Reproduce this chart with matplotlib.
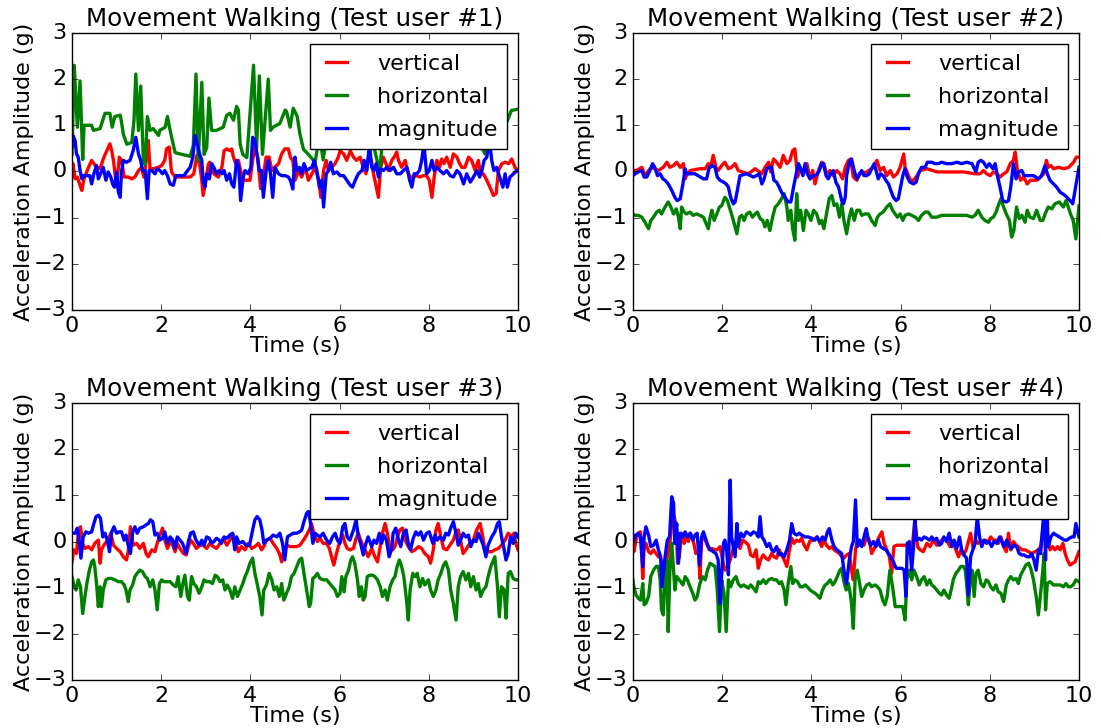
import matplotlib.pyplot as plt

plt.style.use('classic')
plt.rcParams['font.family'] = 'DejaVu Sans'

# samples as (time in s, amplitude in g)
u1_vert = [(0.0,-0.09),(0.02,0.17),(0.07,-0.16),(0.12,-0.12),(0.18,-0.3),(0.22,-0.41),(0.27,-0.16),(0.37,0.09),(0.44,0.24),(0.52,0.13),(0.63,0.06),(0.7,0.27),(0.78,0.45),(0.85,0.6),(0.89,0.45),(0.93,0.24),(1.0,-0.34),(1.06,0.31),(1.11,0.24),(1.17,-0.12),(1.26,-0.12),(1.34,-0.16),(1.41,-0.12),(1.49,0.02),(1.56,0.09),(1.61,-0.12),(1.67,0.27),(1.71,0.67),(1.75,0.06),(1.82,0.06),(1.94,0.09),(2.01,0.13),(2.08,0.24),(2.12,0.49),(2.18,0.53),(2.23,-0.01),(2.31,-0.12),(2.42,-0.12),(2.53,-0.12),(2.65,-0.12),(2.73,-0.05),(2.8,0.35),(2.86,0.17),(2.91,-0.19),(2.94,-0.52),(3.0,-0.19),(3.06,0.17),(3.09,0.2),(3.18,-0.05),(3.28,-0.12),(3.36,0.09),(3.41,0.45),(3.47,0.49),(3.54,0.45),(3.58,0.49),(3.62,0.31),(3.67,0.17),(3.73,0.24),(3.78,0.02),(3.84,-0.19),(3.92,-0.19),(3.99,-0.19),(4.05,0.24),(4.1,0.53),(4.16,0.31),(4.23,-0.37),(4.29,-0.12),(4.35,0.31),(4.42,0.31),(4.48,0.02),(4.55,0.09),(4.63,0.17),(4.7,0.38),(4.77,0.49),(4.85,0.49),(4.9,0.3),(4.95,0.24),(5.0,-0.19),(5.08,0.02),(5.15,-0.12),(5.23,0.09),(5.3,-0.19),(5.38,-0.05),(5.45,0.09),(5.53,-0.19),(5.58,-0.56),(5.64,0.02),(5.7,0.24),(5.75,0.02),(5.82,0.09),(5.9,0.17),(5.97,0.31),(6.01,0.45),(6.09,0.38),(6.16,0.24),(6.24,0.45),(6.31,0.31),(6.38,0.24),(6.46,0.31),(6.53,0.09),(6.59,-0.05),(6.65,0.31),(6.71,0.24),(6.76,-0.05),(6.83,-0.38),(6.87,-0.56),(6.92,0.09),(6.98,0.31),(7.04,0.17),(7.09,0.02),(7.17,0.24),(7.22,0.31),(7.28,0.42),(7.32,0.24),(7.39,0.09),(7.47,0.24),(7.52,0.02),(7.58,-0.12),(7.66,-0.12),(7.73,-0.09),(7.8,-0.12),(7.88,-0.09),(7.95,-0.09),(8.01,-0.19),(8.07,-0.56),(8.12,-0.12),(8.18,0.24),(8.24,0.09),(8.29,0.27),(8.34,0.17),(8.4,0.31),(8.48,0.09),(8.55,0.38),(8.63,0.31),(8.69,0.17),(8.74,0.09),(8.81,0.09),(8.89,0.31),(8.96,0.24),(9.04,0.02),(9.11,0.24),(9.16,-0.05),(9.22,-0.05),(9.3,-0.19),(9.37,-0.34),(9.45,-0.52),(9.51,-0.48),(9.56,0.02),(9.64,0.17),(9.71,0.2),(9.79,0.17),(9.86,0.27),(9.93,0.09),(10.0,0.02)]
u1_horiz = [(0.0,0.37),(0.05,2.3),(0.12,0.96),(0.18,1.96),(0.24,0.26),(0.27,1.0),(0.44,1.0),(0.48,0.89),(0.63,0.93),(0.74,1.26),(0.85,1.26),(0.9,0.96),(0.96,1.19),(1.08,1.22),(1.11,1.07),(1.15,0.81),(1.23,0.59),(1.34,0.63),(1.39,1.11),(1.43,2.11),(1.49,0.89),(1.54,1.85),(1.6,0.22),(1.64,0.15),(1.69,1.19),(1.75,0.89),(1.82,0.93),(1.94,0.78),(1.97,0.89),(2.09,0.96),(2.14,1.19),(2.2,0.89),(2.31,0.41),(2.46,0.37),(2.65,0.33),(2.72,0.56),(2.78,2.11),(2.83,0.22),(2.91,1.93),(2.96,0.37),(3.02,0.52),(3.07,1.59),(3.13,0.89),(3.24,0.89),(3.39,0.96),(3.47,1.22),(3.54,1.26),(3.62,1.11),(3.69,1.41),(3.73,1.33),(3.77,0.59),(3.83,0.37),(3.92,0.3),(4.07,2.3),(4.14,0.52),(4.2,2.07),(4.27,0.37),(4.4,2.0),(4.45,0.89),(4.51,0.96),(4.66,1.04),(4.78,1.33),(4.81,1.3),(4.89,0.96),(4.96,1.37),(5.05,1.19),(5.11,0.81),(5.19,0.48),(5.3,0.37),(5.45,0.2),(5.55,0.8),(5.63,0.25),(5.75,1.0),(5.9,1.2),(6.1,0.9),(6.3,1.4),(6.5,1.0),(6.7,0.8),(6.85,0.2),(6.9,-0.05),(6.95,0.6),(7.1,1.1),(7.4,0.9),(7.7,1.3),(8.0,1.0),(8.3,0.8),(8.6,1.2),(8.9,0.9),(9.1,0.7),(9.26,0.38),(9.35,0.55),(9.45,0.7),(9.6,0.89),(9.7,0.95),(9.85,1.32),(10.0,1.35)]
u1_mag = [(0.0,0.53),(0.02,0.78),(0.07,0.67),(0.1,0.38),(0.14,0.31),(0.18,0.02),(0.22,-0.16),(0.25,-0.09),(0.33,-0.09),(0.4,-0.09),(0.44,-0.27),(0.49,-0.05),(0.55,0.13),(0.59,-0.16),(0.64,-0.05),(0.7,0.09),(0.76,-0.19),(0.81,-0.01),(0.87,-0.12),(0.91,-0.27),(0.95,-0.34),(1.0,-0.01),(1.04,-0.45),(1.08,-0.56),(1.11,-0.01),(1.15,0.24),(1.22,0.2),(1.3,0.24),(1.37,0.45),(1.43,0.74),(1.49,0.38),(1.54,0.24),(1.58,0.02),(1.64,0.02),(1.69,-0.59),(1.73,0.02),(1.79,0.02),(1.86,-0.05),(1.91,0.06),(1.97,0.02),(2.03,-0.05),(2.08,0.02),(2.14,-0.09),(2.2,-0.27),(2.27,-0.3),(2.33,-0.09),(2.42,-0.09),(2.51,-0.09),(2.59,0.02),(2.65,0.09),(2.71,0.31),(2.76,0.78),(2.81,0.6),(2.86,0.38),(2.91,0.24),(2.94,-0.19),(2.98,-0.34),(3.02,-0.05),(3.08,-0.16),(3.13,0.17),(3.18,0.09),(3.24,-0.05),(3.3,0.02),(3.36,-0.05),(3.41,0.02),(3.47,-0.19),(3.53,-0.05),(3.58,-0.27),(3.63,-0.34),(3.69,0.24),(3.74,0.09),(3.78,-0.63),(3.84,-0.12),(3.88,0.02),(3.95,-0.05),(4.01,0.09),(4.05,0.74),(4.1,0.67),(4.16,0.31),(4.2,0.02),(4.25,0.02),(4.29,-0.56),(4.35,-0.01),(4.4,0.24),(4.45,-0.05),(4.5,-0.56),(4.55,0.09),(4.63,-0.05),(4.7,-0.09),(4.78,-0.09),(4.85,-0.12),(4.9,-0.2),(4.95,-0.38),(5.0,0.31),(5.04,0.02),(5.1,0.09),(5.15,-0.05),(5.2,0.17),(5.26,0.02),(5.32,0.06),(5.38,0.09),(5.43,0.24),(5.49,0.02),(5.55,-0.34),(5.6,-0.19),(5.64,-0.77),(5.7,-0.05),(5.75,0.02),(5.8,0.2),(5.86,-0.05),(5.94,-0.01),(6.01,-0.09),(6.09,-0.09),(6.16,-0.19),(6.24,-0.3),(6.29,-0.34),(6.35,-0.19),(6.42,-0.05),(6.5,0.02),(6.55,0.24),(6.61,0.02),(6.67,0.6),(6.72,0.09),(6.77,0.02),(6.82,0.17),(6.87,-0.12),(6.92,0.06),(6.98,0.02),(7.06,0.09),(7.13,0.02),(7.21,0.09),(7.28,-0.05),(7.36,-0.05),(7.43,0.02),(7.51,0.09),(7.57,-0.19),(7.62,-0.34),(7.67,-0.05),(7.73,-0.05),(7.79,0.02),(7.84,0.24),(7.89,0.6),(7.95,-0.05),(8.01,0.02),(8.07,0.24),(8.12,0.02),(8.18,0.09),(8.25,0.02),(8.33,-0.05),(8.4,0.02),(8.48,-0.09),(8.55,-0.12),(8.63,0.02),(8.7,-0.05),(8.78,-0.27),(8.85,-0.05),(8.93,-0.23),(9.0,-0.12),(9.08,0.02),(9.14,-0.12),(9.19,0.02),(9.24,0.24),(9.3,0.31),(9.36,0.7),(9.41,0.24),(9.46,0.02),(9.52,0.09),(9.6,-0.16),(9.66,-0.34),(9.71,-0.05),(9.76,-0.34),(9.82,-0.12),(9.9,-0.05),(9.97,0.02),(10.0,0.02)]

u2_vert = [(0.0,0.02),(0.08,0.02),(0.2,0.09),(0.27,-0.09),(0.35,0.02),(0.42,0.09),(0.57,0.02),(0.68,0.09),(0.76,0.2),(0.83,0.09),(0.91,0.13),(0.98,0.2),(1.06,0.09),(1.13,0.17),(1.17,-0.16),(1.2,-0.09),(1.28,0.02),(1.5,0.06),(1.62,0.06),(1.69,0.17),(1.74,0.09),(1.8,0.35),(1.86,0.09),(1.91,0.02),(1.99,0.13),(2.06,0.2),(2.14,0.06),(2.21,0.09),(2.29,0.17),(2.36,0.02),(2.59,-0.05),(2.74,0.06),(2.89,-0.05),(2.96,0.09),(3.04,0.2),(3.09,-0.01),(3.15,0.27),(3.22,0.2),(3.3,0.09),(3.37,0.35),(3.45,0.17),(3.52,0.24),(3.58,0.45),(3.63,0.49),(3.69,-0.12),(3.75,0.06),(3.82,-0.05),(3.9,0.17),(3.97,-0.16),(4.03,0.02),(4.08,-0.27),(4.16,0.02),(4.23,0.2),(4.28,0.17),(4.34,-0.05),(4.42,0.02),(4.49,-0.09),(4.57,0.02),(4.64,-0.05),(4.7,-0.16),(4.76,0.09),(4.83,0.24),(4.88,0.27),(4.94,-0.12),(5.02,-0.19),(5.09,-0.05),(5.24,-0.01),(5.39,0.09),(5.47,0.24),(5.54,0.02),(5.62,0.09),(5.69,-0.09),(5.77,0.02),(5.84,-0.12),(5.92,-0.05),(5.99,0.09),(6.07,0.38),(6.1,0.09),(6.16,-0.05),(6.22,-0.19),(6.29,-0.19),(6.37,-0.09),(6.44,0.02),(6.59,0.06),(6.82,-0.01),(7.12,-0.01),(7.41,-0.01),(7.67,-0.05),(7.78,-0.05),(7.86,0.02),(7.93,-0.05),(8.01,-0.09),(8.08,-0.01),(8.16,-0.05),(8.23,-0.12),(8.31,-0.05),(8.38,-0.01),(8.46,0.17),(8.53,0.24),(8.57,0.42),(8.62,0.02),(8.69,-0.19),(8.76,-0.12),(8.84,-0.27),(8.91,-0.19),(9.06,-0.19),(9.14,-0.12),(9.21,-0.05),(9.27,0.24),(9.31,0.09),(9.37,0.13),(9.43,0.06),(9.54,0.09),(9.66,0.06),(9.77,0.09),(9.88,0.2),(9.94,0.31),(10.0,0.31)]
u2_horiz = [(0.0,-0.92),(0.05,-0.95),(0.12,-0.95),(0.2,-0.99),(0.27,-1.1),(0.35,-1.24),(0.4,-1.06),(0.46,-0.99),(0.53,-0.88),(0.59,-0.84),(0.64,-0.92),(0.72,-0.77),(0.79,-0.66),(0.85,-0.77),(0.91,-0.92),(0.97,-0.81),(1.02,-0.99),(1.06,-1.24),(1.09,-0.77),(1.15,-0.88),(1.2,-0.92),(1.28,-0.88),(1.35,-0.95),(1.43,-0.92),(1.5,-0.95),(1.58,-0.99),(1.64,-1.13),(1.69,-1.24),(1.73,-0.99),(1.77,-0.84),(1.82,-1.06),(1.88,-0.92),(1.94,-0.77),(1.99,-0.74),(2.06,-0.56),(2.12,-0.63),(2.16,-0.77),(2.21,-0.92),(2.27,-1.13),(2.33,-1.35),(2.39,-0.99),(2.44,-0.95),(2.49,-1.06),(2.55,-0.92),(2.62,-0.88),(2.68,-0.99),(2.74,-0.92),(2.79,-0.88),(2.85,-1.02),(2.91,-1.06),(2.96,-1.2),(3.01,-1.06),(3.07,-1.28),(3.13,-0.99),(3.19,-0.77),(3.26,-0.7),(3.33,-0.59),(3.39,-0.48),(3.45,-0.77),(3.48,-1.06),(3.54,-0.84),(3.58,-1.24),(3.63,-1.49),(3.67,-0.48),(3.71,-1.06),(3.76,-0.84),(3.82,-1.28),(3.88,-0.84),(3.93,-0.92),(3.99,-1.06),(4.05,-0.84),(4.12,-0.92),(4.18,-1.13),(4.23,-1.06),(4.28,-1.24),(4.34,-0.92),(4.4,-0.59),(4.46,-0.52),(4.51,-0.74),(4.57,-0.7),(4.63,-0.99),(4.68,-0.7),(4.73,-1.06),(4.79,-1.35),(4.85,-0.99),(4.9,-0.81),(4.96,-1.06),(5.02,-0.84),(5.08,-0.84),(5.13,-0.95),(5.2,-0.92),(5.28,-0.92),(5.35,-1.06),(5.43,-1.17),(5.48,-0.99),(5.54,-0.92),(5.61,-0.88),(5.69,-0.77),(5.76,-0.7),(5.82,-0.84),(5.88,-0.92),(5.93,-0.99),(5.99,-0.92),(6.05,-1.06),(6.1,-0.95),(6.18,-0.92),(6.25,-0.95),(6.33,-0.99),(6.4,-1.06),(6.47,-0.95),(6.55,-0.88),(6.62,-0.88),(6.7,-0.99),(6.81,-0.99),(6.92,-0.95),(7.03,-0.95),(7.18,-0.95),(7.33,-0.95),(7.48,-0.95),(7.6,-0.99),(7.67,-0.95),(7.74,-0.84),(7.82,-0.99),(7.89,-1.06),(7.97,-1.1),(8.02,-1.02),(8.08,-0.99),(8.14,-0.88),(8.19,-0.74),(8.25,-0.59),(8.31,-0.77),(8.37,-0.92),(8.44,-1.06),(8.49,-1.42),(8.54,-1.28),(8.6,-0.77),(8.66,-1.02),(8.72,-0.95),(8.79,-1.1),(8.84,-0.84),(8.9,-0.99),(8.98,-1.02),(9.05,-0.84),(9.13,-1.06),(9.19,-1.06),(9.24,-0.92),(9.31,-0.77),(9.39,-0.81),(9.46,-0.7),(9.56,-0.66),(9.65,-0.77),(9.71,-0.63),(9.76,-0.77),(9.81,-0.92),(9.87,-1.06),(9.93,-1.46),(10.0,-0.74)]
u2_mag = [(0.0,-0.09),(0.05,-0.05),(0.12,-0.01),(0.2,0.02),(0.25,-0.12),(0.31,-0.12),(0.38,0.02),(0.44,0.17),(0.49,0.09),(0.55,-0.09),(0.61,-0.05),(0.67,-0.16),(0.72,-0.19),(0.79,-0.27),(0.87,-0.41),(0.94,-0.56),(0.99,-0.63),(1.06,-0.59),(1.12,-0.27),(1.17,0.06),(1.2,-0.05),(1.39,-0.05),(1.58,-0.16),(1.65,-0.16),(1.71,0.09),(1.77,0.13),(1.84,0.09),(1.89,-0.12),(1.95,-0.19),(2.03,-0.23),(2.09,-0.27),(2.14,-0.34),(2.19,-0.56),(2.25,-0.7),(2.29,-0.66),(2.34,-0.41),(2.4,-0.09),(2.55,-0.05),(2.7,-0.12),(2.77,-0.09),(2.83,-0.05),(2.89,-0.27),(2.94,-0.16),(3.0,0.06),(3.06,0.09),(3.11,0.09),(3.16,-0.19),(3.22,-0.23),(3.28,-0.34),(3.33,-0.45),(3.41,-0.56),(3.48,-0.66),(3.54,-0.66),(3.6,-0.34),(3.66,-0.05),(3.71,0.17),(3.75,0.09),(3.81,-0.09),(3.86,0.17),(3.91,-0.05),(3.97,-0.16),(4.03,-0.09),(4.1,-0.09),(4.18,0.02),(4.23,0.17),(4.27,0.17),(4.33,-0.09),(4.38,-0.16),(4.43,-0.05),(4.49,0.02),(4.55,-0.23),(4.61,-0.34),(4.68,-0.63),(4.72,-0.7),(4.76,-0.56),(4.79,-0.09),(4.85,0.2),(4.9,0.27),(4.96,0.02),(5.02,-0.16),(5.08,-0.05),(5.13,0.02),(5.18,-0.09),(5.24,-0.09),(5.3,-0.05),(5.35,0.06),(5.41,0.17),(5.45,0.02),(5.5,-0.16),(5.55,-0.05),(5.61,-0.09),(5.67,-0.19),(5.73,-0.27),(5.78,-0.41),(5.84,-0.56),(5.9,-0.63),(5.95,-0.59),(6.0,-0.34),(6.05,-0.09),(6.1,0.06),(6.15,-0.12),(6.21,-0.23),(6.29,-0.27),(6.35,-0.23),(6.4,-0.05),(6.47,0.09),(6.55,0.09),(6.6,0.2),(6.7,0.2),(6.77,0.17),(6.85,0.17),(6.92,0.2),(7.03,0.17),(7.15,0.17),(7.26,0.2),(7.37,0.17),(7.48,0.2),(7.6,0.17),(7.69,-0.01),(7.74,0.2),(7.8,0.24),(7.86,0.2),(7.93,0.09),(7.99,0.17),(8.07,0.06),(8.12,0.17),(8.17,-0.09),(8.23,-0.34),(8.29,-0.63),(8.37,-0.66),(8.42,-0.63),(8.47,-0.34),(8.53,0.17),(8.59,-0.16),(8.64,-0.01),(8.72,0.02),(8.77,-0.09),(8.87,-0.09),(8.98,-0.09),(9.09,-0.16),(9.16,-0.09),(9.24,0.13),(9.29,-0.05),(9.35,-0.19),(9.43,-0.27),(9.5,-0.34),(9.58,-0.45),(9.69,-0.52),(9.8,-0.63),(9.86,-0.7),(9.91,-0.41),(9.95,-0.19),(10.0,0.09)]

u3_vert = [(0.0,-0.44),(0.04,-0.18),(0.1,-0.26),(0.14,0.18),(0.19,0.32),(0.24,-0.04),(0.29,-0.15),(0.37,-0.11),(0.44,-0.18),(0.51,-0.04),(0.59,0.03),(0.63,-0.47),(0.66,-0.18),(0.74,-0.04),(0.81,0.03),(0.87,0.18),(0.93,-0.08),(1.0,-0.15),(1.08,-0.22),(1.15,-0.33),(1.22,-0.4),(1.26,-0.22),(1.31,0.32),(1.37,-0.08),(1.45,-0.04),(1.52,-0.15),(1.6,-0.04),(1.66,-0.26),(1.71,-0.33),(1.79,-0.18),(1.86,-0.22),(1.91,-0.04),(1.97,0.14),(2.03,0.29),(2.08,0.03),(2.14,-0.15),(2.2,0.0),(2.26,-0.08),(2.31,-0.22),(2.36,-0.04),(2.42,-0.15),(2.5,-0.26),(2.56,-0.29),(2.61,-0.11),(2.66,0.03),(2.72,-0.04),(2.79,-0.15),(2.87,-0.08),(2.94,-0.08),(3.02,-0.15),(3.09,-0.04),(3.17,-0.11),(3.24,-0.15),(3.32,-0.04),(3.39,0.07),(3.47,-0.08),(3.54,0.03),(3.62,0.14),(3.68,-0.04),(3.73,-0.22),(3.8,-0.11),(3.88,-0.18),(3.95,-0.04),(4.03,-0.15),(4.1,-0.11),(4.18,-0.04),(4.25,-0.18),(4.3,-0.11),(4.36,0.03),(4.44,0.07),(4.51,-0.04),(4.59,-0.15),(4.65,-0.26),(4.7,-0.44),(4.75,-0.18),(4.81,-0.08),(4.89,-0.11),(4.96,-0.11),(5.04,-0.11),(5.11,-0.08),(5.19,0.03),(5.26,0.14),(5.32,0.25),(5.37,0.39),(5.43,0.14),(5.5,0.0),(5.56,0.07),(5.63,-0.04),(5.71,-0.04),(5.77,-0.15),(5.82,-0.33),(5.87,-0.51),(5.93,-0.26),(6.01,0.03),(6.07,0.14),(6.12,-0.04),(6.17,-0.15),(6.23,-0.18),(6.31,-0.15),(6.37,0.07),(6.42,0.18),(6.47,0.03),(6.53,-0.11),(6.59,-0.22),(6.64,-0.33),(6.72,-0.15),(6.79,-0.33),(6.85,-0.44),(6.91,-0.11),(6.96,0.18),(7.02,0.39),(7.07,0.18),(7.13,-0.15),(7.19,-0.18),(7.24,-0.11),(7.29,0.07),(7.35,0.25),(7.41,0.29),(7.47,0.03),(7.54,-0.11),(7.62,-0.22),(7.69,-0.18),(7.77,-0.11),(7.84,-0.15),(7.91,-0.26),(7.99,-0.33),(8.04,-0.47),(8.1,-0.18),(8.16,0.25),(8.21,0.39),(8.27,0.1),(8.33,-0.15),(8.4,-0.18),(8.47,-0.08),(8.55,0.03),(8.61,0.21),(8.66,0.25),(8.71,0.03),(8.77,-0.26),(8.85,-0.15),(8.92,-0.04),(9.0,0.03),(9.07,0.25),(9.15,0.39),(9.21,0.1),(9.26,-0.18),(9.33,-0.22),(9.41,-0.22),(9.48,-0.18),(9.56,-0.15),(9.63,-0.08),(9.71,0.03),(9.78,0.18),(9.86,0.1),(9.91,0.18),(9.95,-0.04),(10.0,-0.18)]
u3_horiz = [(0.0,-0.76),(0.04,-0.94),(0.09,-1.05),(0.14,-0.83),(0.19,-0.98),(0.24,-1.56),(0.29,-1.19),(0.34,-0.87),(0.39,-0.62),(0.44,-0.44),(0.48,-0.4),(0.51,-0.54),(0.55,-0.91),(0.59,-1.41),(0.63,-0.98),(0.66,-1.41),(0.7,-1.05),(0.76,-0.83),(0.81,-0.8),(0.89,-0.8),(0.96,-0.83),(1.04,-0.87),(1.11,-0.87),(1.17,-0.94),(1.21,-1.05),(1.26,-1.3),(1.3,-1.05),(1.36,-0.94),(1.41,-0.76),(1.46,-0.69),(1.52,-0.62),(1.58,-0.65),(1.64,-0.76),(1.69,-0.8),(1.75,-0.98),(1.81,-0.83),(1.86,-1.05),(1.91,-1.48),(1.96,-0.91),(2.01,-0.83),(2.06,-0.87),(2.12,-0.87),(2.2,-0.87),(2.27,-0.94),(2.33,-0.98),(2.38,-0.76),(2.44,-1.19),(2.48,-0.94),(2.53,-0.73),(2.59,-1.19),(2.63,-1.27),(2.68,-0.76),(2.73,-0.91),(2.79,-0.98),(2.85,-1.12),(2.91,-0.98),(2.96,-0.83),(3.02,-0.87),(3.09,-0.87),(3.15,-0.91),(3.21,-0.73),(3.26,-0.76),(3.32,-0.87),(3.38,-0.83),(3.43,-1.05),(3.48,-0.94),(3.54,-1.05),(3.6,-1.23),(3.65,-0.98),(3.71,-1.19),(3.77,-1.05),(3.83,-0.91),(3.88,-0.76),(3.93,-0.65),(3.99,-0.47),(4.05,-0.36),(4.1,-0.69),(4.15,-0.91),(4.21,-1.19),(4.26,-1.59),(4.3,-1.05),(4.36,-0.94),(4.42,-0.69),(4.48,-0.83),(4.53,-1.05),(4.59,-0.98),(4.65,-1.19),(4.7,-0.91),(4.75,-1.27),(4.81,-1.12),(4.87,-0.98),(4.92,-0.76),(4.98,-0.69),(5.04,-0.54),(5.1,-0.4),(5.15,-0.36),(5.2,-0.69),(5.26,-1.05),(5.32,-1.41),(5.35,-1.34),(5.4,-0.8),(5.45,-0.76),(5.5,-0.69),(5.56,-0.8),(5.63,-0.83),(5.71,-0.83),(5.78,-0.91),(5.84,-0.98),(5.9,-1.05),(5.95,-1.19),(6.01,-1.12),(6.05,-0.76),(6.1,-1.09),(6.14,-0.76),(6.2,-0.62),(6.25,-0.4),(6.29,-0.33),(6.34,-0.47),(6.4,-0.83),(6.44,-1.19),(6.49,-0.98),(6.53,-1.27),(6.57,-1.19),(6.62,-0.76),(6.68,-0.73),(6.74,-0.73),(6.79,-0.76),(6.85,-0.83),(6.91,-0.98),(6.96,-1.19),(7.02,-1.05),(7.07,-1.27),(7.13,-0.98),(7.19,-0.83),(7.24,-0.76),(7.29,-0.54),(7.34,-0.4),(7.39,-0.54),(7.44,-0.76),(7.5,-1.27),(7.54,-1.7),(7.58,-1.05),(7.64,-0.69),(7.69,-0.76),(7.74,-0.69),(7.8,-0.98),(7.86,-0.8),(7.91,-0.94),(7.99,-0.83),(8.04,-1.05),(8.1,-1.19),(8.16,-1.05),(8.21,-0.83),(8.27,-0.69),(8.33,-0.51),(8.38,-0.44),(8.44,-0.62),(8.49,-1.05),(8.55,-1.34),(8.61,-1.7),(8.66,-0.98),(8.71,-0.76),(8.77,-0.65),(8.83,-0.83),(8.89,-0.69),(8.94,-0.98),(9.0,-0.76),(9.06,-1.05),(9.11,-0.91),(9.16,-1.19),(9.22,-1.05),(9.28,-0.98),(9.33,-0.76),(9.39,-0.54),(9.45,-0.4),(9.48,-0.33),(9.54,-0.98),(9.58,-1.63),(9.63,-0.98),(9.69,-1.05),(9.73,-1.66),(9.78,-0.69),(9.83,-0.65),(9.89,-0.8),(9.95,-0.83),(10.0,-0.83)]
u3_mag = [(0.0,0.18),(0.07,0.18),(0.12,0.29),(0.16,0.03),(0.2,-0.36),(0.25,0.1),(0.31,0.21),(0.37,0.18),(0.44,0.21),(0.49,0.39),(0.54,0.54),(0.59,0.57),(0.64,0.5),(0.69,0.1),(0.74,0.18),(0.79,0.03),(0.84,-0.22),(0.89,0.21),(0.94,0.32),(1.0,0.18),(1.06,0.21),(1.11,0.21),(1.17,0.03),(1.21,0.14),(1.26,-0.08),(1.31,-0.26),(1.36,0.21),(1.41,0.32),(1.46,0.18),(1.52,0.29),(1.6,0.32),(1.66,0.36),(1.71,0.39),(1.76,0.47),(1.81,0.43),(1.86,0.14),(1.91,0.18),(1.97,0.03),(2.03,0.07),(2.08,0.21),(2.14,-0.04),(2.2,0.1),(2.26,0.03),(2.31,-0.15),(2.36,0.1),(2.42,0.03),(2.48,-0.04),(2.56,-0.26),(2.61,0.0),(2.66,0.18),(2.72,0.21),(2.78,0.03),(2.85,-0.08),(2.91,0.03),(2.96,-0.08),(3.02,0.1),(3.08,0.07),(3.13,-0.04),(3.18,0.0),(3.24,0.07),(3.3,0.03),(3.35,-0.04),(3.41,0.1),(3.47,0.07),(3.54,0.14),(3.6,0.18),(3.65,-0.18),(3.69,0.1),(3.75,-0.04),(3.83,0.0),(3.9,-0.08),(3.98,-0.08),(4.05,0.25),(4.1,0.47),(4.15,0.54),(4.21,0.47),(4.26,0.25),(4.3,-0.04),(4.36,0.03),(4.44,0.07),(4.51,0.14),(4.59,0.1),(4.66,0.18),(4.72,-0.04),(4.77,-0.4),(4.83,0.1),(4.89,0.14),(4.96,0.18),(5.04,0.18),(5.1,0.21),(5.15,0.25),(5.2,0.43),(5.26,0.61),(5.3,0.65),(5.35,0.39),(5.4,-0.04),(5.45,0.18),(5.5,0.14),(5.56,0.1),(5.63,0.18),(5.71,0.03),(5.78,-0.04),(5.84,0.1),(5.9,0.18),(5.95,0.03),(6.01,-0.04),(6.07,0.32),(6.12,0.39),(6.17,0.1),(6.23,0.03),(6.31,0.25),(6.37,0.47),(6.42,0.1),(6.47,-0.04),(6.53,-0.29),(6.59,-0.04),(6.64,0.1),(6.72,-0.11),(6.77,0.03),(6.83,-0.04),(6.89,0.18),(6.94,-0.04),(6.99,0.14),(7.05,0.03),(7.11,-0.33),(7.17,-0.15),(7.2,0.18),(7.26,0.29),(7.32,0.03),(7.37,-0.11),(7.43,0.18),(7.49,0.25),(7.54,-0.04),(7.59,-0.18),(7.65,0.07),(7.71,0.21),(7.76,0.14),(7.82,0.21),(7.88,0.03),(7.95,0.18),(8.01,0.21),(8.09,-0.04),(8.14,0.14),(8.19,0.03),(8.25,0.1),(8.33,0.03),(8.38,0.18),(8.44,0.14),(8.49,0.29),(8.55,0.43),(8.61,0.18),(8.66,-0.08),(8.71,0.03),(8.77,0.18),(8.83,0.1),(8.89,0.14),(8.94,-0.11),(9.0,0.03),(9.06,0.0),(9.11,0.18),(9.16,0.07),(9.22,-0.08),(9.28,-0.33),(9.33,-0.08),(9.41,0.1),(9.48,0.21),(9.54,0.39),(9.58,0.43),(9.63,0.1),(9.69,-0.18),(9.73,-0.4),(9.78,-0.26),(9.83,0.1),(9.89,-0.04),(9.95,0.18),(10.0,0.1)]

u4_vert = [(0.0,-0.04),(0.02,-0.22),(0.07,0.03),(0.12,0.18),(0.17,0.21),(0.22,-0.8),(0.25,-0.11),(0.29,-0.04),(0.35,-0.22),(0.4,-0.26),(0.46,-0.18),(0.52,-0.26),(0.57,-0.33),(0.62,-0.36),(0.67,-0.54),(0.72,-0.62),(0.77,-0.33),(0.82,-0.11),(0.87,0.39),(0.92,0.54),(0.97,0.36),(1.0,-0.47),(1.04,-0.33),(1.09,0.18),(1.15,-0.04),(1.19,0.1),(1.24,0.0),(1.29,0.18),(1.35,0.03),(1.41,-0.26),(1.47,-0.18),(1.5,-0.8),(1.54,0.03),(1.59,0.1),(1.65,-0.04),(1.71,-0.18),(1.77,-0.15),(1.84,-0.18),(1.89,-0.18),(1.95,-0.11),(2.01,-0.4),(2.06,-0.62),(2.12,-0.54),(2.18,-0.4),(2.24,-0.18),(2.29,-0.04),(2.34,0.0),(2.4,-0.15),(2.46,0.03),(2.51,0.0),(2.59,-0.08),(2.64,-0.29),(2.7,-0.33),(2.76,-0.18),(2.81,-0.58),(2.86,-0.4),(2.92,-0.29),(2.98,-0.36),(3.04,-0.4),(3.11,-0.26),(3.16,-0.33),(3.22,-0.36),(3.28,-0.18),(3.33,-0.29),(3.39,-0.4),(3.45,-0.54),(3.51,-0.18),(3.56,0.07),(3.61,-0.04),(3.67,0.03),(3.73,0.0),(3.78,0.07),(3.84,-0.08),(3.9,-0.18),(3.96,0.0),(4.01,0.03),(4.06,0.03),(4.12,0.1),(4.18,0.0),(4.23,-0.11),(4.28,0.03),(4.34,-0.08),(4.4,-0.15),(4.46,-0.11),(4.51,-0.18),(4.57,-0.22),(4.63,-0.26),(4.68,-0.33),(4.73,-0.36),(4.79,-0.29),(4.85,-0.26),(4.9,-0.62),(4.94,-0.83),(4.99,-0.18),(5.03,0.03),(5.08,-0.08),(5.13,-0.04),(5.18,-0.08),(5.24,0.1),(5.3,0.03),(5.35,-0.26),(5.41,-0.15),(5.47,0.0),(5.52,0.1),(5.58,0.21),(5.63,-0.04),(5.69,-0.18),(5.75,-0.33),(5.8,-0.69),(5.85,-0.11),(5.91,-0.08),(5.99,-0.08),(6.06,-0.08),(6.14,-0.08),(6.21,-0.11),(6.27,-0.04),(6.32,0.47),(6.38,-0.11),(6.44,-0.18),(6.51,-0.22),(6.59,-0.04),(6.66,-0.11),(6.74,0.03),(6.81,-0.08),(6.89,0.0),(6.96,0.07),(7.03,0.03),(7.11,-0.11),(7.18,0.0),(7.24,-0.18),(7.3,-0.33),(7.35,-0.18),(7.41,-0.29),(7.47,-0.18),(7.52,0.0),(7.57,0.18),(7.63,-0.15),(7.69,0.03),(7.74,-0.04),(7.82,0.0),(7.89,0.03),(7.97,0.0),(8.02,0.1),(8.08,0.03),(8.14,0.03),(8.19,-0.04),(8.25,0.1),(8.31,-0.11),(8.37,-0.22),(8.42,0.18),(8.47,-0.18),(8.53,0.0),(8.59,-0.08),(8.64,-0.11),(8.72,-0.18),(8.79,-0.18),(8.87,-0.22),(8.94,-0.26),(9.02,-0.22),(9.09,-0.18),(9.14,-0.11),(9.19,0.25),(9.24,0.03),(9.29,0.1),(9.35,-0.18),(9.41,-0.11),(9.46,-0.18),(9.52,-0.11),(9.58,-0.18),(9.64,-0.04),(9.69,-0.26),(9.74,-0.4),(9.8,-0.51),(9.86,-0.47),(9.91,-0.44),(10.0,-0.22)]
u4_horiz = [(0.0,-0.83),(0.02,-0.98),(0.07,-1.16),(0.12,-1.23),(0.17,-1.27),(0.22,-0.91),(0.25,-1.37),(0.29,-1.34),(0.35,-1.19),(0.4,-0.76),(0.46,-0.62),(0.52,-0.54),(0.57,-0.54),(0.61,-0.83),(0.64,-1.48),(0.68,-1.59),(0.72,-0.69),(0.76,-0.4),(0.79,-1.95),(0.83,-0.54),(0.87,-0.04),(0.91,-0.62),(0.94,-1.05),(0.98,-0.76),(1.04,-0.83),(1.12,-0.94),(1.17,-0.76),(1.22,-0.83),(1.28,-0.98),(1.34,-1.12),(1.39,-1.27),(1.44,-1.19),(1.5,-0.91),(1.56,-0.76),(1.62,-0.83),(1.67,-0.62),(1.73,-0.47),(1.79,-0.51),(1.84,-0.54),(1.89,-1.05),(1.94,-1.95),(1.99,-0.83),(2.04,-1.12),(2.09,-1.95),(2.14,-0.83),(2.19,-0.98),(2.25,-0.83),(2.31,-0.76),(2.36,-0.91),(2.42,-0.98),(2.48,-0.94),(2.54,-0.98),(2.59,-1.01),(2.64,-0.94),(2.7,-1.01),(2.76,-1.09),(2.81,-0.87),(2.86,-0.91),(2.92,-0.83),(2.98,-0.91),(3.04,-0.83),(3.11,-0.8),(3.16,-0.83),(3.22,-0.83),(3.28,-0.91),(3.33,-0.87),(3.39,-1.05),(3.43,-1.37),(3.48,-0.91),(3.54,-0.54),(3.58,-0.91),(3.63,-0.83),(3.69,-0.87),(3.75,-0.98),(3.81,-0.98),(3.86,-0.94),(3.91,-0.98),(3.97,-1.05),(4.03,-1.09),(4.08,-1.12),(4.13,-1.16),(4.19,-1.23),(4.25,-1.05),(4.31,-0.94),(4.36,-0.91),(4.42,-0.83),(4.48,-0.94),(4.53,-0.87),(4.58,-0.76),(4.64,-0.62),(4.68,-0.58),(4.72,-0.83),(4.78,-1.05),(4.83,-0.91),(4.87,-1.12),(4.9,-1.34),(4.94,-1.88),(4.98,-0.83),(5.03,-0.62),(5.08,-0.91),(5.13,-1.19),(5.18,-1.05),(5.24,-0.94),(5.3,-0.91),(5.35,-0.98),(5.43,-0.94),(5.48,-0.98),(5.54,-1.05),(5.6,-1.27),(5.65,-1.37),(5.7,-1.19),(5.76,-0.62),(5.82,-0.98),(5.88,-1.41),(5.93,-1.41),(5.99,-1.41),(6.05,-1.41),(6.1,-1.7),(6.14,-0.83),(6.2,-0.62),(6.25,-0.83),(6.3,-0.62),(6.36,-0.76),(6.42,-0.94),(6.47,-0.83),(6.53,-0.76),(6.59,-0.94),(6.65,-0.83),(6.7,-0.94),(6.75,-0.98),(6.81,-1.05),(6.87,-1.12),(6.92,-1.16),(6.97,-1.05),(7.03,-1.16),(7.09,-1.23),(7.15,-0.98),(7.18,-0.83),(7.24,-0.69),(7.3,-0.62),(7.35,-0.54),(7.41,-0.54),(7.45,-0.62),(7.48,-0.91),(7.52,-1.37),(7.56,-0.83),(7.6,-0.62),(7.65,-1.19),(7.69,-0.69),(7.74,-0.62),(7.8,-0.91),(7.86,-0.98),(7.92,-0.83),(7.97,-0.87),(8.02,-0.98),(8.08,-1.05),(8.14,-0.94),(8.19,-1.09),(8.25,-1.12),(8.31,-1.3),(8.37,-0.94),(8.42,-0.83),(8.47,-0.76),(8.53,-0.83),(8.59,-0.8),(8.64,-0.91),(8.69,-0.73),(8.75,-0.62),(8.81,-0.51),(8.87,-0.47),(8.92,-0.58),(8.98,-0.83),(9.04,-1.19),(9.09,-1.59),(9.14,-1.12),(9.19,-0.62),(9.22,-0.26),(9.25,-1.48),(9.29,-0.91),(9.35,-0.87),(9.43,-0.94),(9.5,-0.94),(9.58,-0.94),(9.65,-0.98),(9.71,-0.91),(9.76,-0.98),(9.81,-0.98),(9.87,-0.94),(9.93,-0.83),(10.0,-0.87)]
u4_mag = [(0.0,0.14),(0.02,0.03),(0.07,0.14),(0.12,0.18),(0.17,0.1),(0.22,-0.54),(0.25,0.1),(0.29,0.32),(0.35,0.14),(0.4,-0.11),(0.46,-0.08),(0.52,0.03),(0.57,-0.18),(0.62,-0.33),(0.65,-0.98),(0.72,-0.33),(0.77,0.03),(0.82,0.1),(0.87,0.97),(0.91,0.83),(0.94,-0.04),(0.98,0.39),(1.02,-0.47),(1.06,0.18),(1.12,0.1),(1.17,0.21),(1.22,0.1),(1.28,0.18),(1.34,0.03),(1.39,0.14),(1.44,0.18),(1.49,-0.51),(1.54,0.1),(1.58,0.21),(1.64,0.03),(1.69,-0.11),(1.74,-0.18),(1.8,-0.22),(1.86,-0.26),(1.91,-0.4),(1.95,-1.34),(1.99,-0.69),(2.03,-0.04),(2.06,0.03),(2.1,-0.18),(2.14,-0.72),(2.18,1.33),(2.21,0.1),(2.25,-0.11),(2.29,-0.33),(2.33,0.39),(2.36,-0.11),(2.42,0.18),(2.48,0.1),(2.54,0.21),(2.59,0.18),(2.64,0.14),(2.7,0.21),(2.76,0.18),(2.81,0.1),(2.85,0.54),(2.89,0.1),(2.94,0.03),(3.0,-0.11),(3.06,-0.04),(3.11,-0.18),(3.16,-0.22),(3.22,-0.11),(3.28,-0.29),(3.33,-0.26),(3.39,-0.33),(3.45,-0.18),(3.51,0.03),(3.56,0.39),(3.61,0.18),(3.67,0.14),(3.73,0.18),(3.78,0.14),(3.86,0.1),(3.93,0.1),(4.01,0.07),(4.08,0.03),(4.13,0.1),(4.19,0.0),(4.25,0.1),(4.31,0.03),(4.36,0.21),(4.4,0.28),(4.46,0.03),(4.51,-0.11),(4.57,-0.18),(4.63,-0.22),(4.68,-0.26),(4.73,-0.62),(4.79,-0.91),(4.85,-0.4),(4.9,-0.11),(4.94,0.0),(4.99,0.9),(5.03,-0.11),(5.08,0.03),(5.13,-0.11),(5.18,0.1),(5.23,0.28),(5.28,0.03),(5.33,-0.08),(5.39,0.0),(5.45,-0.11),(5.5,0.03),(5.55,-0.11),(5.61,-0.15),(5.67,-0.18),(5.73,-0.26),(5.78,-0.33),(5.84,-0.44),(5.9,-0.58),(5.95,-0.58),(6.03,-0.58),(6.08,-0.62),(6.12,-1.19),(6.15,-0.04),(6.2,0.0),(6.25,-0.62),(6.29,-0.11),(6.32,0.47),(6.36,0.03),(6.42,0.07),(6.47,0.03),(6.53,0.1),(6.59,0.07),(6.65,0.03),(6.7,0.1),(6.75,0.03),(6.81,0.07),(6.87,-0.08),(6.92,-0.04),(6.97,0.1),(7.03,0.0),(7.09,0.18),(7.15,-0.11),(7.2,0.03),(7.26,-0.15),(7.32,0.1),(7.37,-0.18),(7.42,-0.29),(7.48,-0.36),(7.52,-1.16),(7.57,-0.33),(7.62,-0.18),(7.67,-0.04),(7.72,0.54),(7.77,0.1),(7.82,-0.11),(7.87,0.03),(7.93,-0.04),(7.99,0.0),(8.04,-0.11),(8.1,0.0),(8.16,-0.04),(8.22,0.1),(8.27,0.0),(8.32,-0.11),(8.38,0.03),(8.44,-0.11),(8.49,-0.15),(8.54,-0.08),(8.6,-0.11),(8.66,-0.26),(8.72,-0.29),(8.77,-0.29),(8.83,-0.33),(8.89,-0.33),(8.94,-0.26),(8.99,-0.4),(9.04,-0.62),(9.09,-0.18),(9.14,-0.26),(9.19,0.36),(9.22,0.83),(9.25,-0.4),(9.28,0.83),(9.31,-0.11),(9.37,0.1),(9.43,0.18),(9.49,0.14),(9.56,0.1),(9.61,0.07),(9.67,0.03),(9.73,0.03),(9.78,0.07),(9.84,0.1),(9.89,0.1),(9.93,0.39),(10.0,0.1)]

users = [(u1_vert, u1_horiz, u1_mag),
         (u2_vert, u2_horiz, u2_mag),
         (u3_vert, u3_horiz, u3_mag),
         (u4_vert, u4_horiz, u4_mag)]
names = ['vertical', 'horizontal', 'magnitude']
colors = ['r', 'g', 'b']

# axes boxes: left, bottom, width, height
boxes = [[0.0654, 0.5742, 0.4051, 0.3805],
         [0.5749, 0.5742, 0.4051, 0.3805],
         [0.0654, 0.0659, 0.4051, 0.3805],
         [0.5749, 0.0659, 0.4051, 0.3805]]

fig = plt.figure(figsize=(11.01, 7.28), dpi=100, facecolor='white')
for k, series in enumerate(users):
    ax = fig.add_axes(boxes[k])
    for data, c, name in zip(series, colors, names):
        t = [p[0] for p in data]
        v = [p[1] for p in data]
        ax.plot(t, v, color=c, lw=2.4, label=name)
    ax.set_xlim(0, 10)
    ax.set_ylim(-3, 3)
    ax.set_xticks([0, 2, 4, 6, 8, 10])
    ax.set_yticks([-3, -2, -1, 0, 1, 2, 3])
    ax.tick_params(labelsize=16)
    ax.set_title('Movement Walking (Test user #%d)' % (k + 1), fontsize=17.7)
    ax.set_xlabel('Time (s)', fontsize=16, labelpad=0)
    ax.set_ylabel('Acceleration Amplitude (g)', fontsize=16, labelpad=0)
    ax.legend(loc='upper right', fontsize=16, labelspacing=0.585,
              handlelength=1.55, handletextpad=1.05, borderpad=0.43)

fig.savefig('out.png', dpi=100, facecolor='white')
